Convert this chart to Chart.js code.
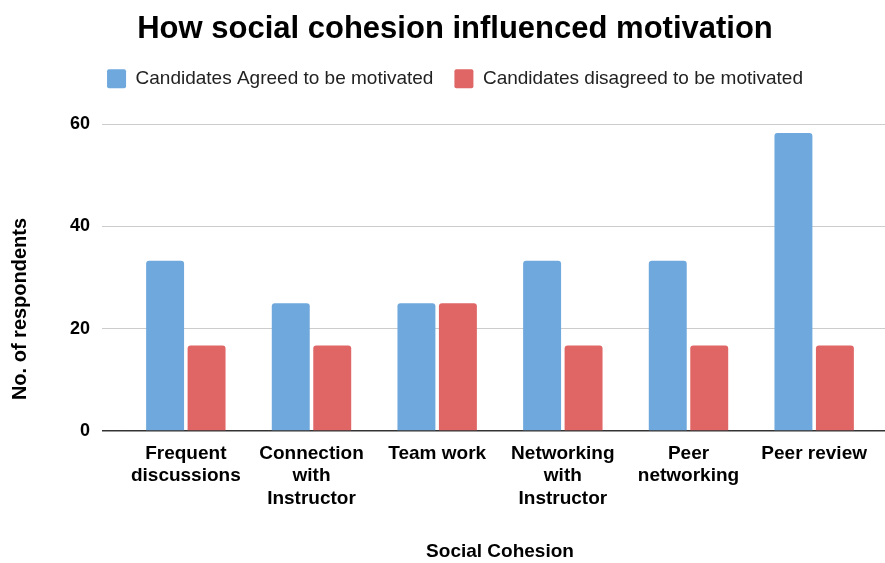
<!DOCTYPE html>
<html>
<head>
<meta charset="utf-8">
<script src="https://cdn.jsdelivr.net/npm/chart.js@4"></script>
<style>
  html, body { margin: 0; padding: 0; background: #fff; }
  #wrap { width: 885px; height: 563px; }
</style>
</head>
<body>
<div id="wrap"><canvas id="chart"></canvas></div>
<script>
// categories and counts per social cohesion factor
const categories = [
    ['Frequent', 'discussions'],
    ['Connection', 'with', 'Instructor'],
    'Team work',
    ['Networking', 'with', 'Instructor'],
    ['Peer', 'networking'],
    'Peer review'
];
const agreed = [33.3, 25, 25, 33.3, 33.3, 58.3];
const disagreed = [16.7, 16.7, 25, 16.7, 16.7, 16.7];
const yTicks = [0, 20, 40, 60];

const FONT = "'Liberation Sans', Arial, sans-serif";

function align(px, w) {
    return Math.round(px - w / 2) + w / 2;
}

// empty box between legend and plot, gridlines run on to the right edge, rotated y title
const extras = {
    id: 'extras',
    beforeInit(chart) {
        Chart.layouts.addBox(chart, {
            position: 'top',
            weight: 500,
            fullSize: true,
            options: {},
            isHorizontal() { return true; },
            update(maxWidth) {
                this.width = maxWidth;
                this.height = 26;
            },
            draw() {}
        });
    },
    afterDraw(chart) {
        const ctx = chart.ctx;
        const y = chart.scales.y;
        const area = chart.chartArea;
        ctx.save();
        y.ticks.forEach(t => {
            const w = t.value === 0 ? 1.5 : 1;
            const py = align(y.getPixelForValue(t.value), w);
            ctx.strokeStyle = t.value === 0 ? '#333333' : '#cccccc';
            ctx.lineWidth = w;
            ctx.beginPath();
            ctx.moveTo(area.right, py);
            ctx.lineTo(chart.width, py);
            ctx.stroke();
        });
        ctx.translate(20, 309);
        ctx.rotate(-Math.PI / 2);
        ctx.fillStyle = '#000';
        ctx.font = 'bold 20px ' + FONT;
        ctx.textAlign = 'center';
        ctx.textBaseline = 'middle';
        ctx.fillText('No. of respondents', 0, 0);
        ctx.restore();
    }
};

const ctx = document.getElementById('chart').getContext('2d');
const myChart = new Chart(ctx, {
    type: 'bar',
    data: {
        labels: categories,
        datasets: [
            {
                label: 'Candidates Agreed to be motivated',
                data: agreed,
                backgroundColor: '#6fa8dc',
                borderRadius: { topLeft: 3, topRight: 3 },
                borderSkipped: 'bottom'
            },
            {
                label: 'Candidates disagreed to be motivated',
                data: disagreed,
                backgroundColor: '#e06666',
                borderRadius: { topLeft: 3, topRight: 3 },
                borderSkipped: 'bottom'
            }
        ]
    },
    options: {
        responsive: true,
        maintainAspectRatio: false,
        animation: false,
        categoryPercentage: 0.66,
        barPercentage: 0.915,
        layout: { padding: { left: 33, right: 8, top: 0, bottom: 0 } },
        plugins: {
            title: {
                display: true,
                text: 'How social cohesion influenced motivation',
                color: '#000',
                font: { family: FONT, size: 31, weight: 'bold' },
                padding: { top: 11, bottom: 0 }
            },
            legend: {
                position: 'top',
                labels: {
                    color: '#222',
                    font: { family: FONT, size: 19 },
                    boxWidth: 19,
                    boxHeight: 19,
                    padding: 21,
                    useBorderRadius: true,
                    borderRadius: 2
                }
            },
            tooltip: { enabled: false }
        },
        scales: {
            x: {
                grid: { display: false, drawTicks: false },
                border: { display: false },
                ticks: {
                    color: '#000',
                    padding: 11,
                    maxRotation: 0,
                    autoSkip: false,
                    font: { family: FONT, size: 19, weight: 'bold', lineHeight: 1.2 }
                },
                title: {
                    display: true,
                    text: 'Social Cohesion',
                    color: '#000',
                    font: { family: FONT, size: 19, weight: 'bold' },
                    padding: { top: 0, bottom: 0 }
                },
                afterFit(scale) { scale.height = 132; }
            },
            y: {
                min: 0,
                max: 60,
                afterBuildTicks(scale) {
                    scale.ticks = yTicks.map(v => ({ value: v }));
                },
                grid: {
                    color: ctx => ctx.tick && ctx.tick.value === 0 ? '#333333' : '#cccccc',
                    lineWidth: ctx => ctx.tick && ctx.tick.value === 0 ? 1.5 : 1,
                    tickLength: 21
                },
                border: { display: false },
                ticks: {
                    color: '#000',
                    padding: 12,
                    font: { family: FONT, size: 18, weight: 'bold' }
                },
                afterFit(scale) { scale.width = 90; }
            }
        }
    },
    plugins: [extras]
});
</script>
</body>
</html>
